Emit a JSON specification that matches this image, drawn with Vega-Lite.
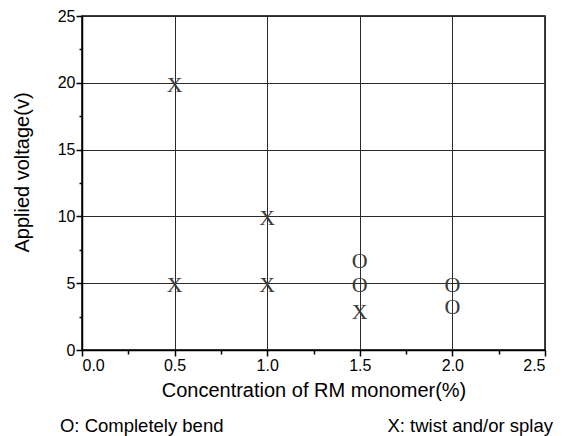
{
  "$schema": "https://vega.github.io/schema/vega-lite/v6.json",
  "width": 463,
  "height": 334,
  "autosize": "none",
  "padding": {"left": 82, "top": 16, "right": 21, "bottom": 86},
  "background": "white",
  "config": {
    "view": {"stroke": "black", "strokeWidth": 1.5},
    "font": "Liberation Sans",
    "axis": {
      "domainColor": "black",
      "domainWidth": 1.5,
      "tickColor": "black",
      "tickWidth": 1.5,
      "labelColor": "black",
      "titleColor": "black",
      "labelFont": "Liberation Sans",
      "titleFont": "Liberation Sans",
      "labelFontSize": 16,
      "titleFontSize": 20,
      "titleFontWeight": "normal",
      "gridColor": "#2a2a2a",
      "gridWidth": 1,
      "gridOpacity": 1
    }
  },
  "data": {
    "values": [
      {"conc": 0.5, "voltage": 20, "marker": "X"},
      {"conc": 0.5, "voltage": 5, "marker": "X"},
      {"conc": 1.0, "voltage": 10, "marker": "X"},
      {"conc": 1.0, "voltage": 5, "marker": "X"},
      {"conc": 1.5, "voltage": 3, "marker": "X"},
      {"conc": 1.5, "voltage": 6.8, "marker": "O"},
      {"conc": 1.5, "voltage": 5, "marker": "O"},
      {"conc": 2.0, "voltage": 5, "marker": "O"},
      {"conc": 2.0, "voltage": 3.4, "marker": "O"}
    ]
  },
  "layer": [
    {
      "mark": {"type": "text", "font": "Liberation Serif", "fontSize": 22, "color": "#3a3a3a", "baseline": "middle", "dy": 2},
      "encoding": {
        "x": {
          "field": "conc", "type": "quantitative",
          "scale": {"domain": [0, 2.5], "nice": false, "zero": true},
          "axis": {
            "orient": "bottom",
            "values": [0, 0.5, 1, 1.5, 2, 2.5],
            "format": ".1f",
            "tickSize": 6,
            "labelPadding": 1,
            "title": "Concentration of RM monomer(%)",
            "titlePadding": 7,
            "grid": true
          }
        },
        "y": {
          "field": "voltage", "type": "quantitative",
          "scale": {"domain": [0, 25], "nice": false},
          "axis": {
            "orient": "left",
            "values": [0, 5, 10, 15, 20, 25],
            "tickSize": 6,
            "labelPadding": 1,
            "title": "Applied voltage(v)",
            "titlePadding": 25,
            "titleY": 156,
            "grid": true
          }
        },
        "text": {"field": "marker"}
      }
    },
    {
      "mark": {"type": "text", "opacity": 0},
      "encoding": {
        "x": {
          "field": "conc", "type": "quantitative",
          "scale": {"domain": [0, 2.5], "nice": false},
          "axis": {"orient": "bottom", "values": [0.25, 0.75, 1.25, 1.75, 2.25], "labels": false, "title": null, "domain": false, "grid": false, "tickSize": 4}
        },
        "y": {
          "field": "voltage", "type": "quantitative",
          "scale": {"domain": [0, 25], "nice": false},
          "axis": {"orient": "left", "values": [2.5, 7.5, 12.5, 17.5, 22.5], "labels": false, "title": null, "domain": false, "grid": false, "tickSize": 3}
        },
        "text": {"field": "marker"}
      }
    },
    {
      "data": {"values": [{"label": "O: Completely bend"}]},
      "mark": {"type": "text", "align": "left", "baseline": "alphabetic", "fontSize": 18.5, "font": "Liberation Sans", "color": "black"},
      "encoding": {
        "x": {"datum": -0.119, "type": "quantitative", "axis": null},
        "y": {"datum": -6.14, "type": "quantitative", "axis": null},
        "text": {"field": "label"}
      }
    },
    {
      "data": {"values": [{"label": "X: twist and/or splay"}]},
      "mark": {"type": "text", "align": "right", "baseline": "alphabetic", "fontSize": 18.5, "font": "Liberation Sans", "color": "black"},
      "encoding": {
        "x": {"datum": 2.543, "type": "quantitative", "axis": null},
        "y": {"datum": -6.14, "type": "quantitative", "axis": null},
        "text": {"field": "label"}
      }
    }
  ],
  "resolve": {"axis": {"x": "independent", "y": "independent"}}
}
